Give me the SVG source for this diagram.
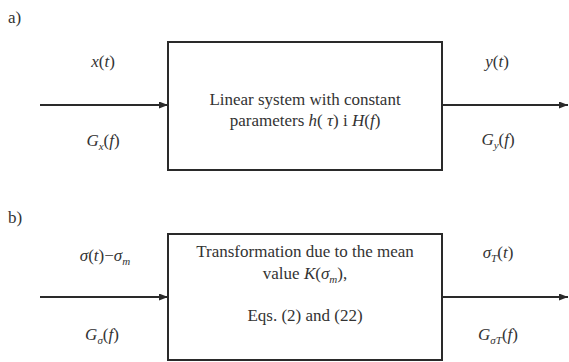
<svg xmlns="http://www.w3.org/2000/svg" width="569" height="362" viewBox="0 0 569 362">
<style>
text{font-family:"Liberation Serif","Times New Roman",serif;font-size:17px;fill:#333}
.c{text-anchor:middle}
.i{font-style:italic}
.s{font-size:11px}
.box{fill:none;stroke:#2a2a2a;stroke-width:2}
.ln{stroke:#2a2a2a;stroke-width:1.8;fill:none}
</style>
<defs>
<marker id="ah" markerUnits="userSpaceOnUse" markerWidth="10" markerHeight="8" refX="9" refY="3.5" orient="auto">
<path d="M0,0 L9,3.5 L0,7 z" fill="#2a2a2a"/>
</marker>
</defs>
<g id="labels">
<text x="8" y="23">a)</text>
<text x="8" y="223">b)</text>
</g>
<g id="connectors">
<line class="ln" x1="40" y1="105" x2="168" y2="105" marker-end="url(#ah)"/>
<line class="ln" x1="442" y1="105" x2="568" y2="105" marker-end="url(#ah)"/>
<line class="ln" x1="40" y1="297" x2="168" y2="297" marker-end="url(#ah)"/>
<line class="ln" x1="442" y1="297" x2="568" y2="297" marker-end="url(#ah)"/>
</g>
<g id="edge-labels">
<text class="c" x="103" y="67"><tspan class="i">x</tspan>(<tspan class="i">t</tspan>)</text>
<text class="c" x="103" y="146"><tspan class="i">G</tspan><tspan class="i s" dy="4">x</tspan><tspan dy="-4">(</tspan><tspan class="i">f</tspan>)</text>
<text class="c" x="497" y="67"><tspan class="i">y</tspan>(<tspan class="i">t</tspan>)</text>
<text class="c" x="498" y="145"><tspan class="i">G</tspan><tspan class="i s" dy="4">y</tspan><tspan dy="-4">(</tspan><tspan class="i">f</tspan>)</text>
<text class="c" x="105" y="261"><tspan class="i">σ</tspan>(<tspan class="i">t</tspan>)−<tspan class="i">σ</tspan><tspan class="i s" dy="4">m</tspan></text>
<text class="c" x="102" y="340"><tspan class="i">G</tspan><tspan class="i s" dy="4">σ</tspan><tspan dy="-4">(</tspan><tspan class="i">f</tspan>)</text>
<text class="c" x="498" y="258"><tspan class="i">σ</tspan><tspan class="i s" dy="4">T</tspan><tspan dy="-4">(</tspan><tspan class="i">t</tspan>)</text>
<text class="c" x="498" y="340"><tspan class="i">G</tspan><tspan class="i s" dy="4">σT</tspan><tspan dy="-4">(</tspan><tspan class="i">f</tspan>)</text>
</g>
<g id="node-linear">
<rect class="box" x="168" y="42" width="274" height="128"/>
<text class="c" x="305" y="105">Linear system with constant</text>
<text class="c" x="305" y="126">parameters <tspan class="i">h</tspan>( <tspan class="i">τ</tspan>) i <tspan class="i">H</tspan>(<tspan class="i">f</tspan>)</text>
</g>
<g id="node-transformation">
<rect class="box" x="168" y="234" width="274" height="126"/>
<text class="c" x="305" y="257">Transformation due to the mean</text>
<text class="c" x="305" y="279">value <tspan class="i">K</tspan>(<tspan class="i">σ</tspan><tspan class="i s" dy="4">m</tspan><tspan dy="-4">),</tspan></text>
<text class="c" x="305" y="321">Eqs. (2) and (22)</text>
</g>
</svg>
